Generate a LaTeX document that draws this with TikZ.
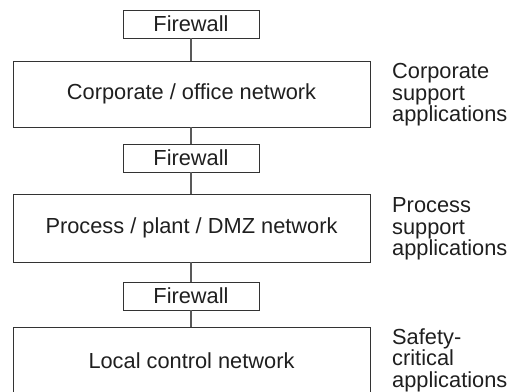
\documentclass[tikz,border=0pt]{standalone}
\usepackage{fontspec}
\setmainfont{Liberation Sans}
\begin{document}
\begin{tikzpicture}[x=1pt,y=1pt,
  font=\fontsize{21.8}{21.6}\selectfont,
  fwbox/.style={draw=black!80, line width=0.9pt, minimum width=136pt, minimum height=28pt, inner sep=0pt, text=black!88},
  netbox/.style={draw=black!80, line width=0.9pt, minimum width=357pt, inner sep=0pt, text=black!88},
  applabel/.style={anchor=west, align=left, inner sep=0pt, text=black!88},
  link/.style={draw=black!65, line width=1.4pt}]
\useasboundingbox (0,0) rectangle (516,-391);

% firewalls and network zones, top to bottom
\node[fwbox] (fw1) at (191,-24) {Firewall};
\node[netbox, minimum height=66pt] (corp) at (191.5,-94) {Corporate / office network};
\node[fwbox] (fw2) at (191,-158) {Firewall};
\node[netbox, minimum height=68pt] (proc) at (191.5,-228) {Process / plant / DMZ network};
\node[fwbox] (fw3) at (191,-296) {Firewall};
\node[netbox, minimum height=68pt] (local) at (191.5,-361) {Local control network};

% links between the layers
\draw[link] (fw1) -- (fw1 |- corp.north);
\draw[link] (fw1 |- corp.south) -- (fw2);
\draw[link] (fw2) -- (fw2 |- proc.north);
\draw[link] (fw2 |- proc.south) -- (fw3);
\draw[link] (fw3) -- (fw3 |- local.north);

% applications served by each zone
\node[applabel] (corpapp) at (392,-95) {Corporate\\support\\applications};
\node[applabel] (procapp) at (392,-229) {Process\\support\\applications};
\node[applabel] (safeapp) at (392,-360) {Safety-\\critical\\applications};
\end{tikzpicture}
\end{document}
